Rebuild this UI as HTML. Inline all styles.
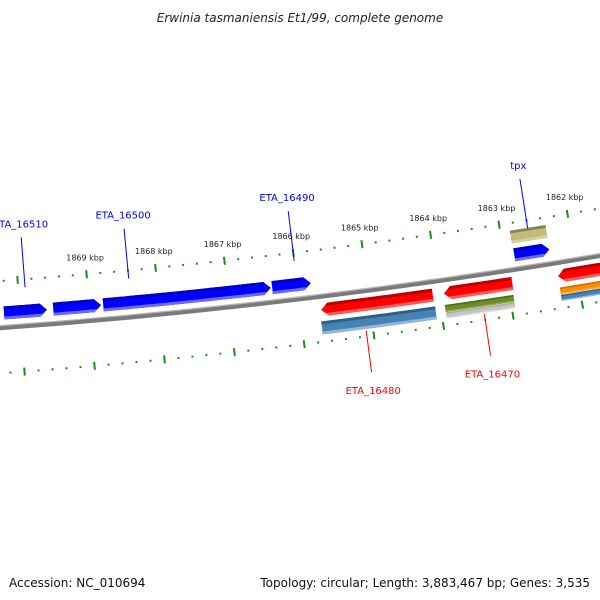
<!DOCTYPE html>
<html><head><meta charset="utf-8"><style>
html,body{margin:0;padding:0;background:#fff;}
svg{display:block;font-family:"DejaVu Sans","Liberation Sans",sans-serif;}
</style></head><body>
<svg id="map" width="600" height="600" viewBox="0 0 600 600" xmlns="http://www.w3.org/2000/svg">
<rect width="600" height="600" fill="#fff"/>
<text x="300" y="22" text-anchor="middle" font-size="12" font-style="italic" fill="#222">Erwinia tasmaniensis Et1/99, complete genome</text>
<text x="9" y="587" font-size="12" fill="#111">Accession: NC_010694</text>
<text x="590" y="587" text-anchor="end" font-size="12" fill="#111">Topology: circular; Length: 3,883,467 bp; Genes: 3,535</text>
<defs id="defs"></defs>
<g id="rulers"></g>
<circle cx="-463" cy="-6056" r="6400.5" fill="none" stroke="#7a7a7a" stroke-width="5"/>
<circle cx="-463" cy="-6056" r="6398.5" fill="none" stroke="#b5b5b5" stroke-width="1.2"/>
<g id="features"></g>
<g id="labels"></g>
</svg>
<script>
// genome data (kbp)
const tickLabels = [1862,1863,1864,1865,1866,1867,1868,1869];
const fwdStarts = [1870.23,1869.52,1868.80,1866.36,1862.85];
const fwdEnds   = [1869.61,1868.83,1866.38,1865.80,1862.34];
const revStarts = [1865.70,1863.93,1862.28];
const revEnds   = [1864.09,1862.94,1860.5];
const labelNames = ["ETA_16510","ETA_16500","ETA_16490","tpx","ETA_16480","ETA_16470"];
const labelKbp   = [1869.90,1868.40,1866.00,1862.60,1865.10,1863.40];

const NS="http://www.w3.org/2000/svg";
const CX=-463, CY=-6056;
function ang(k){return 0.1193+(1866-k)*0.0109;}
function pt(k,r){const a=ang(k);return [CX+r*Math.sin(a),CY+r*Math.cos(a)];}
function mk(tag,attrs,parent){const e=document.createElementNS(NS,tag);for(const a in attrs)e.setAttribute(a,attrs[a]);parent.appendChild(e);return e;}

// rulers
const rul=document.getElementById('rulers');
[6354,6446].forEach((r,ri)=>{
  for(let i=18600;i<=18720;i+=2){
    const k=i/10; const major=(i%10===0);
    const h=major?4:1;
    const a=pt(k,r-h),b=pt(k,r+h);
    const t=mk('line',{x1:a[0],y1:a[1],x2:b[0],y2:b[1],stroke:'#1f8a1f','stroke-width':2},rul);
    
    
  }
});
tickLabels.forEach(k=>{
  const p=pt(k,6337);
  const t=mk('text',{x:p[0],y:p[1]+3,'text-anchor':'middle','font-size':8,fill:'#222'},rul);
  t.textContent=k+' kbp';
  
  
});

// features
const feat=document.getElementById('features');
const defs=document.getElementById('defs');
let cid=0;
function band(k1,k2,rIn,rOut,n){const pts=[];for(let i=0;i<=n;i++){pts.push(pt(k1+(k2-k1)*i/n,rOut));}for(let i=n;i>=0;i--){pts.push(pt(k1+(k2-k1)*i/n,rIn));}return pts;}
function feature(k1,k2,rc,th,cols,arrow,name){
  // k1 = tail, k2 = tip end
  const rIn=rc-th/2,rOut=rc+th/2,n=12;
  let pts=[];
  const headK = arrow ? (k2 + (k1>k2?1:-1)*0.1) : k2;
  for(let i=0;i<=n;i++)pts.push(pt(k1+(headK-k1)*i/n,rIn));
  if(arrow){pts.push(pt(k2,rc));}
  for(let i=n;i>=0;i--)pts.push(pt(k1+(headK-k1)*i/n,rOut));
  const id='c'+(cid++);
  const cp=mk('clipPath',{id:id},defs);
  mk('polygon',{points:pts.map(p=>p.join(',')).join(' ')},cp);
  const g=mk('g',{'clip-path':'url(#'+id+')'},feat);
  
  
  const lo=Math.min(k1,k2)-0.2,hi=Math.max(k1,k2)+0.2;
  mk('polygon',{points:band(lo,hi,rIn-1,rOut+1,n).map(p=>p.join(',')).join(' '),fill:cols[1]},g);
  mk('polygon',{points:band(lo,hi,rIn-1,rIn+th*0.22,n).map(p=>p.join(',')).join(' '),fill:cols[0]},g);
  mk('polygon',{points:band(lo,hi,rOut-th*0.22,rOut+1,n).map(p=>p.join(',')).join(' '),fill:cols[2]},g);
}
const BLUE=['#0000c8','#0000ff','#6a6aff'], RED=['#b80000','#ff0000','#ff5a5a'];
const STEEL=['#2f5f88','#4682b4','#8fb8dc'], KHAKI=['#8c8450','#c2bc7c','#d4d0a0'];
fwdStarts.forEach((s,i)=>feature(s,fwdEnds[i],6386,13,BLUE,true,'forward-gene'));
feature(1862.86,1862.34,6368,13,KHAKI,false,'khaki-feature');
revStarts.forEach((s,i)=>feature(revEnds[i],s,6414,13,RED,true,'reverse-gene'));
feature(1865.72,1864.08,6432,13,STEEL,false,'steel-feature');
feature(1863.94,1862.95,6429,7,['#4f6b18','#6b8e23','#8aa84a'],false,'olive-feature');
feature(1863.94,1862.95,6436,6,['#a8a8a8','#c4c4c4','#e2e2e2'],false,'gray-feature');
feature(1862.28,1860.5,6429,7,['#cc6e00','#ff8c00','#ffb050'],false,'orange-feature');
feature(1862.28,1860.5,6436,6,STEEL,false,'steel-feature-2');

// labels
const lab=document.getElementById('labels');
labelNames.forEach((nm,i)=>{
  const k=labelKbp[i]; const fwd=i<4;
  const rA=fwd?6362:6440, rB=fwd?6312:6482, rT=fwd?6302:6495;
  const a=pt(k,rA),b=pt(k,rB),t=pt(k,rT);
  const col=fwd?'#0000ff':'#ff0000';
  const l=mk('line',{x1:a[0],y1:a[1],x2:b[0],y2:b[1],stroke:col,'stroke-width':1},lab);
  
  
  const tx=mk('text',{x:t[0],y:fwd?t[1]:t[1]+9,'text-anchor':'middle','font-size':10,fill:col},lab);
  tx.textContent=nm;
  
  
});
</script>
</body></html>
